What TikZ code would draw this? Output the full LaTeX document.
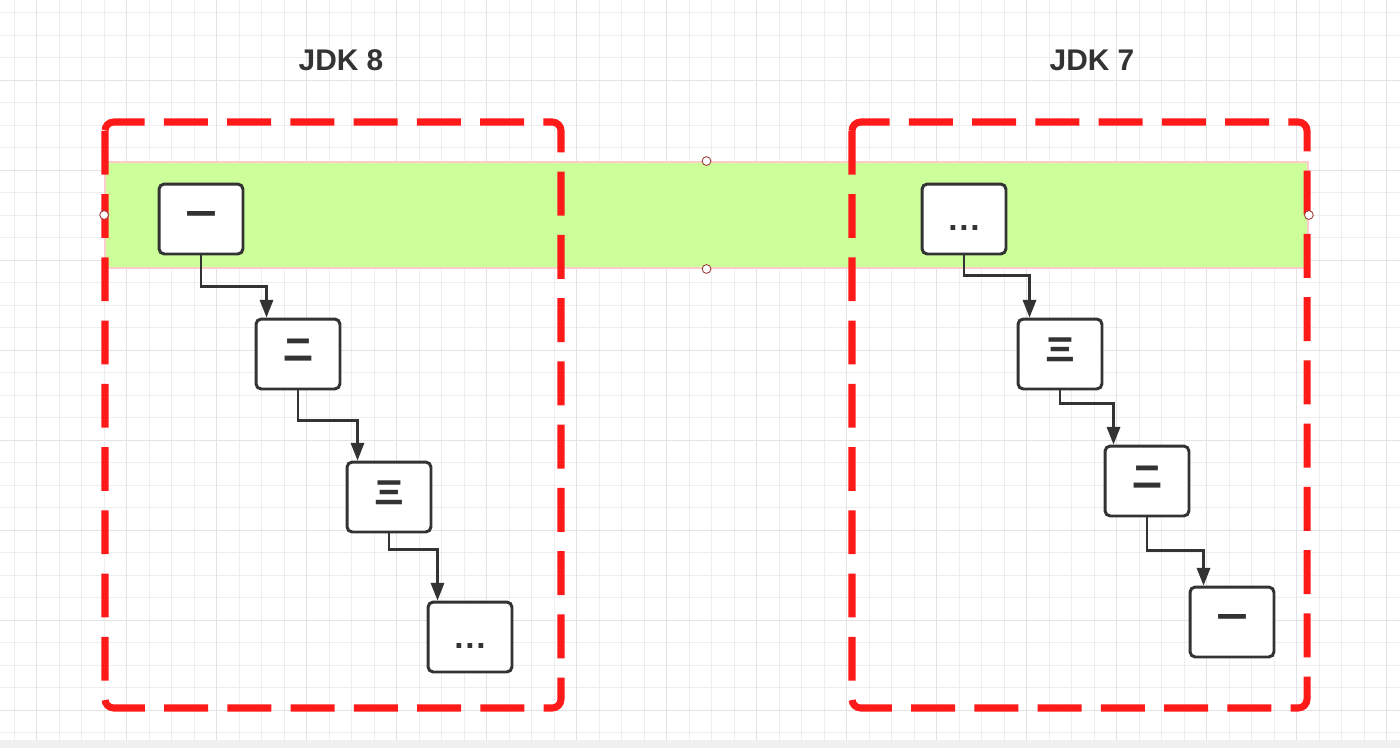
\documentclass[tikz,border=0pt]{standalone}
\usepackage{fontspec}
\setmainfont{Liberation Sans}
\newfontfamily\cjk{Noto Sans CJK SC}
\usepackage{tikz}
\usetikzlibrary{calc,arrows.meta}
\definecolor{ink}{HTML}{333333}
\definecolor{gridminor}{HTML}{EEEEEE}
\definecolor{gridmajor}{HTML}{E3E3E3}
\definecolor{bandfill}{HTML}{CCFF99}
\definecolor{bandedge}{HTML}{FFCCCC}
\definecolor{framered}{HTML}{FF1A1A}
\definecolor{knobedge}{HTML}{9E3B3B}
\definecolor{strip}{HTML}{F0F0F0}
\newcommand{\moredots}{.\hspace{1pt}.\hspace{1pt}.}
\tikzset{
  frame/.style={framered,line width=4pt,dash pattern=on 25pt off 11pt,rounded corners=5pt},
  band/.style={fill=bandfill,draw=bandedge,line width=1.1pt,minimum width=24.06cm,minimum height=2.12cm,inner sep=0pt},
  knob/.style={circle,draw=knobedge,fill=white,line width=0.5pt,inner sep=0pt,minimum size=5pt},
  box/.style={draw=ink,line width=1.7pt,fill=white,rounded corners=3pt,minimum width=1.68cm,minimum height=1.40cm,
    inner sep=0pt,text height=0.88em,text depth=0.12em,text=ink,font=\cjk\bfseries\fontsize{17}{17}\selectfont},
  dotbox/.style={box,font=\bfseries\fontsize{19}{19}\selectfont,text height=15pt,text depth=2pt},
  link/.style={ink,line width=1.4pt,-{Triangle[length=10pt,width=7.5pt]}},
  title/.style={text=ink,font=\bfseries\fontsize{17}{20}\selectfont}
}

\begin{document}
\begin{tikzpicture}[x=0.02cm,y=-0.02cm]
% canvas and grid
\fill[white] (0,0) rectangle (1400,748);
\useasboundingbox (0,0) rectangle (1400,748);
\foreach \gx in {0,...,61} \draw[gridminor,line width=0.55pt] (14.2+22.5*\gx,0) -- (14.2+22.5*\gx,740);
\foreach \gy in {0,...,32} \draw[gridminor,line width=0.55pt] (0,12.7+22.5*\gy) -- (1400,12.7+22.5*\gy);
\foreach \gx in {0,...,15} \draw[gridmajor,line width=0.55pt] (36.7+90*\gx,0) -- (36.7+90*\gx,740);
\foreach \gy in {0,...,7} \draw[gridmajor,line width=0.55pt] (0,80.2+90*\gy) -- (1400,80.2+90*\gy);
\fill[strip] (0,740) rectangle (1400,748);

% titles
\node[title] (t8) at (341,60) {JDK 8};
\node[title] (t7) at (1092,60) {JDK 7};

% highlighted row
\node[band] (band) at (706.5,215) {};

% dashed frames
\draw[frame] (105,122) rectangle (561,708);
\draw[frame] (852,122) rectangle (1307,708);

% JDK 8 list
\node[box] (l1) at (201,219) {一};
\node[box] (l2) at (298,354) {二};
\node[box] (l3) at (389,497) {三};
\node[dotbox] (l4) at (470,637) {\moredots};
\draw[link] (l1.south) -- ++(0,31) -| ($(l2.north west)+(12,0)$);
\draw[link] (l2.south) -- ++(0,30) -| ($(l3.north west)+(12,0)$);
\draw[link] (l3.south) -- ++(0,16) -| ($(l4.north west)+(11,0)$);

% JDK 7 list
\node[dotbox] (r1) at (964,219) {\moredots};
\node[box] (r2) at (1060,354) {三};
\node[box] (r3) at (1147,481) {二};
\node[box] (r4) at (1232,622) {一};
\draw[link] (r1.south) -- ++(0,20) -| ($(r2.north west)+(13,0)$);
\draw[link] (r2.south) -- ++(0,13) -| ($(r3.north west)+(10,0)$);
\draw[link] (r3.south) -- ++(0,33) -| ($(r4.north west)+(15,0)$);

% selection handles
\node[knob] (kw) at (band.west) {};
\node[knob] (kn) at (band.north) {};
\node[knob] (ks) at (band.south) {};
\node[knob] (ke) at (band.east) {};
\end{tikzpicture}
\end{document}
